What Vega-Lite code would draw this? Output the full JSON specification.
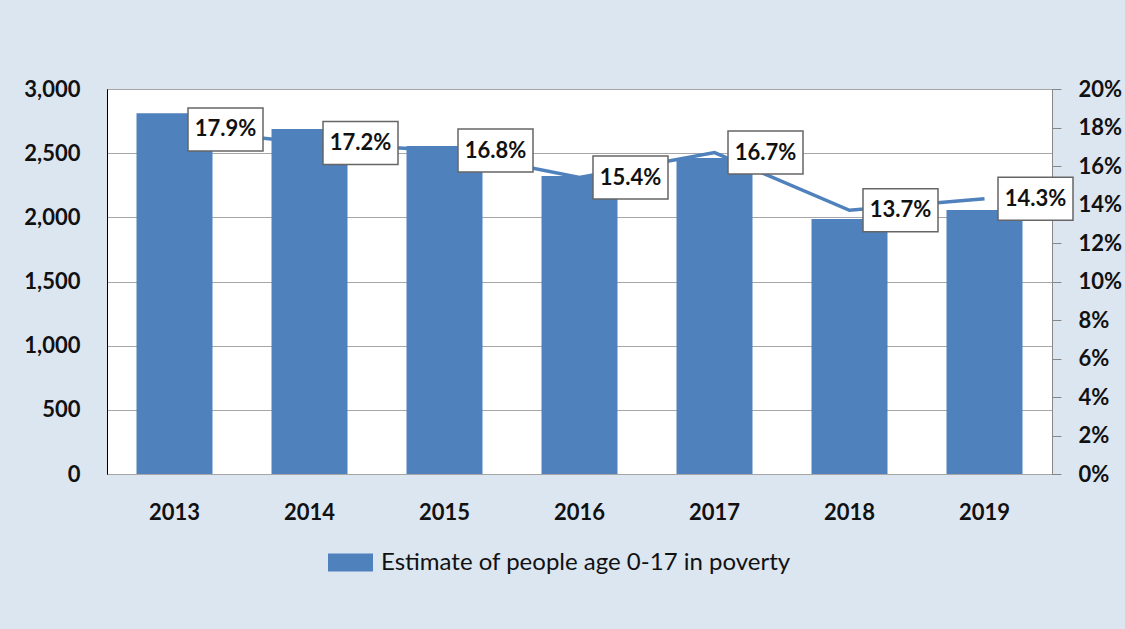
{
  "$schema": "https://vega.github.io/schema/vega-lite/v6.json",
  "autosize": "none",
  "width": 945,
  "height": 385,
  "padding": {"left": 107, "top": 89, "right": 73, "bottom": 155},
  "background": "#DCE6F1",
  "config": {
    "view": {"fill": "#FFFFFF", "stroke": "#222222", "strokeWidth": 1},
    "font": "Lato",
    "axis": {"labelFont": "Lato", "labelFontWeight": "bold", "labelColor": "#111111", "titleFont": "Lato"}
  },
  "data": {
    "values": [
      {"year": "2013", "estimate": 2812, "rate": 0.179},
      {"year": "2014", "estimate": 2688, "rate": 0.172},
      {"year": "2015", "estimate": 2556, "rate": 0.168},
      {"year": "2016", "estimate": 2322, "rate": 0.154},
      {"year": "2017", "estimate": 2462, "rate": 0.167},
      {"year": "2018", "estimate": 1987, "rate": 0.137},
      {"year": "2019", "estimate": 2057, "rate": 0.143}
    ]
  },
  "encoding": {
    "x": {
      "field": "year",
      "type": "nominal",
      "scale": {"paddingInner": 0.437, "paddingOuter": 0.2185},
      "axis": {"title": null, "labelAngle": 0, "labelFontSize": 22, "labelPadding": 28, "ticks": false, "domain": false}
    }
  },
  "layer": [
    {
      "mark": {"type": "bar", "color": "#4F81BD"},
      "encoding": {
        "y": {
          "field": "estimate",
          "type": "quantitative",
          "scale": {"domain": [0, 3000], "nice": false},
          "axis": {
            "title": null,
            "values": [0, 500, 1000, 1500, 2000, 2500, 3000],
            "format": ",.0f",
            "labelFontSize": 22,
            "labelPadding": 27,
            "labelOverlap": false,
            "ticks": false,
            "domainColor": "#000000",
            "gridColor": "#A6A6A6",
            "gridWidth": 1.2
          }
        },
        "color": {
          "datum": "Estimate of people age 0-17 in poverty",
          "type": "nominal",
          "scale": {"range": ["#4F81BD"]},
          "legend": {
            "title": null,
            "orient": "none",
            "legendX": 221,
            "legendY": 451,
            "symbolType": "M-1,-0.4H1V0.4H-1Z",
            "symbolSize": 2025,
            "symbolStrokeWidth": 0,
            "labelFontSize": 24,
            "labelFont": "Lato",
            "labelColor": "#111111",
            "labelLimit": 0,
            "labelOffset": 8
          }
        }
      }
    },
    {
      "encoding": {
        "y": {
          "field": "rate",
          "type": "quantitative",
          "scale": {"domain": [0, 0.2], "nice": false},
          "axis": {
            "orient": "right",
            "title": null,
            "values": [0, 0.02, 0.04, 0.06, 0.08, 0.1, 0.12, 0.14, 0.16, 0.18, 0.2],
            "format": ".0%",
            "labelFontSize": 22,
            "labelPadding": 17,
            "labelOverlap": false,
            "tickSize": 9,
            "tickColor": "#888888",
            "domainColor": "#888888",
            "grid": false
          }
        }
      },
      "layer": [
        {
          "mark": {"type": "line", "color": "#4F81BD", "strokeWidth": 3.5},
          "encoding": {}
        },
        {
          "mark": {
            "type": "point",
            "shape": "M-1,-0.573H1V0.573H-1Z",
            "size": 5625,
            "filled": true,
            "fill": "#FFFFFF",
            "stroke": "#666666",
            "strokeWidth": 1.5,
            "opacity": 1,
            "xOffset": 51
          }
        },
        {
          "mark": {
            "type": "text",
            "fontSize": 22,
            "fontWeight": "bold",
            "font": "Lato",
            "color": "#111111",
            "xOffset": 51,
            "baseline": "middle",
            "align": "center"
          },
          "encoding": {
            "text": {"field": "rate", "type": "quantitative", "format": ".1%"}
          }
        }
      ]
    }
  ],
  "resolve": {"scale": {"y": "independent"}}
}
